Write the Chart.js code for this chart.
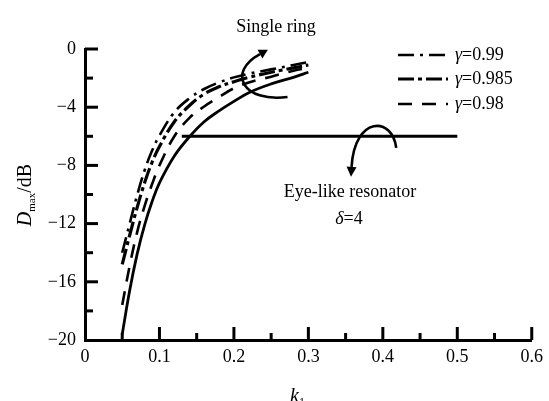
<!DOCTYPE html>
<html>
<head>
<meta charset="utf-8">
<script src="https://cdn.jsdelivr.net/npm/chart.js@4/dist/chart.umd.min.js"></script>
<style>
  html, body { margin: 0; padding: 0; background: #fff; }
  canvas { display: block; }
</style>
</head>
<body>
<canvas id="chart" width="549" height="401"></canvas>
<script>
// coupling coefficient k1 and maximum drop D_max (dB)
const kValues = [0.05, 0.06, 0.07, 0.08, 0.09, 0.1, 0.12, 0.14, 0.16, 0.18, 0.2, 0.22, 0.25, 0.28, 0.3];
const dGamma099 = [-14.0, -12.0, -10.05, -8.35, -7.0, -5.95, -4.35, -3.4, -2.75, -2.3, -1.95, -1.7, -1.4, -1.1, -0.9];
const dGamma0985 = [-14.8, -12.8, -10.9, -9.2, -7.8, -6.7, -5.0, -3.9, -3.1, -2.6, -2.25, -1.95, -1.6, -1.3, -1.1];
const dGamma098 = [-17.6, -14.9, -12.6, -10.8, -9.3, -8.0, -6.0, -4.75, -3.95, -3.3, -2.7, -2.3, -1.9, -1.5, -1.3];
const dSolid = [-19.6, -16.6, -14.1, -12.1, -10.5, -9.2, -7.35, -6.05, -5.0, -4.25, -3.6, -3.0, -2.4, -1.95, -1.6];

// eye-like resonator, delta = 4
const eyeK = [0.13, 0.5];
const eyeD = [-6, -6];

const legendLabels = ["0.99", "0.985", "0.98"];

const SERIF = '"Liberation Serif", "DejaVu Serif", serif';

function points(xs, ys) {
    return xs.map((x, i) => ({ x: x, y: ys[i] }));
}

const dashStyles = [
    { dash: [16, 6, 3, 6], width: 2.6 },
    { dash: [16, 4, 4, 4], width: 3.2 },
    { dash: [14, 10], width: 2.6 },
];

// inward ticks, annotations, legend and axis titles
const decorations = {
    id: "decorations",
    afterDraw(chart) {
        const ctx = chart.ctx;
        const xs = chart.scales.x;
        const ys = chart.scales.y;
        const area = chart.chartArea;
        const px = (k) => xs.getPixelForValue(k);
        const py = (d) => ys.getPixelForValue(d);

        ctx.save();
        ctx.strokeStyle = "#000";
        ctx.fillStyle = "#000";
        ctx.lineCap = "butt";

        // y ticks
        ctx.lineWidth = 3;
        for (let v = -18; v <= 0; v += 2) {
            const len = v % 4 === 0 ? 13 : 8;
            ctx.beginPath();
            ctx.moveTo(area.left, py(v));
            ctx.lineTo(area.left + len, py(v));
            ctx.stroke();
        }
        // x ticks
        for (let i = 1; i <= 12; i++) {
            const v = i * 0.05;
            const len = i % 2 === 0 ? 13 : 7;
            ctx.beginPath();
            ctx.moveTo(px(v), area.bottom);
            ctx.lineTo(px(v), area.bottom - len);
            ctx.stroke();
        }

        // arrow helper
        function arrow(p0, p1, p2, p3, head) {
            ctx.lineWidth = 2.6;
            ctx.beginPath();
            ctx.moveTo(px(p0[0]), py(p0[1]));
            ctx.bezierCurveTo(px(p1[0]), py(p1[1]), px(p2[0]), py(p2[1]), px(p3[0]), py(p3[1]));
            ctx.stroke();
            const ex = px(p3[0]), ey = py(p3[1]);
            const ang = Math.atan2(ey - py(p2[1]), ex - px(p2[0]));
            const tipX = ex + Math.cos(ang) * head;
            const tipY = ey + Math.sin(ang) * head;
            ctx.beginPath();
            ctx.moveTo(tipX, tipY);
            ctx.lineTo(ex + Math.cos(ang + Math.PI / 2) * 5, ey + Math.sin(ang + Math.PI / 2) * 5);
            ctx.lineTo(ex + Math.cos(ang - Math.PI / 2) * 5, ey + Math.sin(ang - Math.PI / 2) * 5);
            ctx.closePath();
            ctx.fill();
        }

        // single ring arrow
        arrow([0.272, -3.3], [0.212, -3.7], [0.19, -1.6], [0.235, -0.35], 9);
        // eye-like resonator arrow
        arrow([0.418, -6.8], [0.413, -4.6], [0.362, -4.6], [0.358, -8.1], 10);

        // annotation text
        ctx.font = "18px " + SERIF;
        ctx.textAlign = "center";
        ctx.textBaseline = "middle";
        ctx.fillText("Single ring", 276, 27);
        ctx.fillText("Eye-like resonator", 350, 192);
        ctx.font = "italic 18px " + SERIF;
        const dW = ctx.measureText("δ").width;
        ctx.font = "18px " + SERIF;
        const eW = ctx.measureText("=4").width;
        let sx = 349 - (dW + eW) / 2;
        ctx.textAlign = "left";
        ctx.font = "italic 18px " + SERIF;
        ctx.fillText("δ", sx, 219);
        ctx.font = "18px " + SERIF;
        ctx.fillText("=4", sx + dW, 219);

        // legend
        const legY = [55, 79, 104];
        dashStyles.forEach((s, i) => {
            ctx.save();
            ctx.lineWidth = s.width;
            ctx.setLineDash(s.dash);
            ctx.beginPath();
            ctx.moveTo(398, legY[i]);
            ctx.lineTo(448, legY[i]);
            ctx.stroke();
            ctx.restore();
            ctx.font = "italic 18px " + SERIF;
            ctx.fillText("γ", 455, legY[i]);
            const gW = ctx.measureText("γ").width;
            ctx.font = "18px " + SERIF;
            ctx.fillText("=" + legendLabels[i], 455 + gW, legY[i]);
        });

        // y title: D_max/dB
        ctx.save();
        ctx.translate(24, 195);
        ctx.rotate(-Math.PI / 2);
        ctx.textBaseline = "alphabetic";
        ctx.font = "italic 20px " + SERIF;
        const w1 = ctx.measureText("D").width;
        ctx.font = "11px " + SERIF;
        const w2 = ctx.measureText("max").width;
        ctx.font = "20px " + SERIF;
        const w3 = ctx.measureText("/dB").width;
        let tx = -(w1 + w2 + w3) / 2;
        ctx.font = "italic 20px " + SERIF;
        ctx.fillText("D", tx, 7);
        ctx.font = "11px " + SERIF;
        ctx.fillText("max", tx + w1, 11);
        ctx.font = "20px " + SERIF;
        ctx.fillText("/dB", tx + w1 + w2, 7);
        ctx.restore();

        // x title: k1
        ctx.textBaseline = "alphabetic";
        ctx.font = "italic 20px " + SERIF;
        ctx.fillText("k", 290, 402);
        const kW = ctx.measureText("k").width;
        ctx.font = "12px " + SERIF;
        ctx.fillText("1", 290 + kW, 406);

        ctx.restore();
    },
};

const ctx = document.getElementById("chart").getContext("2d");

new Chart(ctx, {
    type: "scatter",
    data: {
        datasets: [
            {
                label: "γ=0.99",
                data: points(kValues, dGamma099),
                borderDash: dashStyles[0].dash,
                borderWidth: dashStyles[0].width,
            },
            {
                label: "γ=0.985",
                data: points(kValues, dGamma0985),
                borderDash: dashStyles[1].dash,
                borderWidth: dashStyles[1].width,
            },
            {
                label: "γ=0.98",
                data: points(kValues, dGamma098),
                borderDash: dashStyles[2].dash,
                borderWidth: dashStyles[2].width,
            },
            {
                label: "solid",
                data: points(kValues, dSolid),
                borderWidth: 2.8,
            },
            {
                label: "Eye-like resonator",
                data: points(eyeK, eyeD),
                borderWidth: 3,
                tension: 0,
            },
        ].map((d) => Object.assign({
            showLine: true,
            borderColor: "#000",
            backgroundColor: "#000",
            pointRadius: 0,
            tension: 0.4,
            fill: false,
        }, d)),
    },
    options: {
        responsive: false,
        animation: false,
        devicePixelRatio: 1,
        layout: {
            padding: { top: 49, right: 17, left: 0, bottom: 0 },
        },
        plugins: {
            legend: { display: false },
            tooltip: { enabled: false },
        },
        scales: {
            x: {
                type: "linear",
                min: 0,
                max: 0.6,
                grid: { display: false, drawTicks: false },
                border: { display: true, color: "#000", width: 3 },
                ticks: {
                    stepSize: 0.1,
                    color: "#000",
                    padding: 6,
                    font: { family: SERIF, size: 18 },
                    callback: (v) => (v === 0 ? "0" : v.toFixed(1)),
                },
                afterFit(scale) {
                    scale.height = 61;
                },
            },
            y: {
                type: "linear",
                min: -20,
                max: 0,
                grid: { display: false, drawTicks: false },
                border: { display: true, color: "#000", width: 3 },
                ticks: {
                    stepSize: 4,
                    color: "#000",
                    padding: 9,
                    font: { family: SERIF, size: 18 },
                    callback: (v) => String(v).replace("-", "\u2212"),
                },
                afterFit(scale) {
                    scale.width = 85;
                },
            },
        },
    },
    plugins: [decorations],
});
</script>
</body>
</html>
